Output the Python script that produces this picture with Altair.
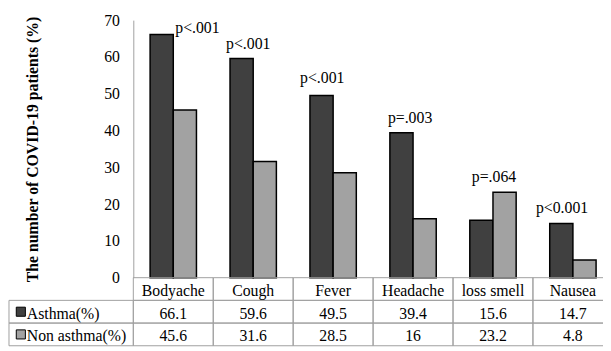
import altair as alt
import pandas as pd

# ---------------- data ----------------
symptoms = ["Bodyache", "Cough", "Fever", "Headache", "loss smell", "Nausea"]
asthma = [66.1, 59.6, 49.5, 39.4, 15.6, 14.7]
non_asthma = [45.6, 31.6, 28.5, 16, 23.2, 4.8]
p_values = ["p<.001", "p<.001", "p<.001", "p=.003", "p=.064", "p<0.001"]
series = ["Asthma(%)", "Non asthma(%)"]
y_ticks = [0, 10, 20, 30, 40, 50, 60, 70]
y_title = "The number of COVID-19 patients (%)"

# ---------------- styling ----------------
FONT = "Liberation Serif"
FS = 16
GRID = "#a0a0a0"
COLORS = ["#404040", "#a2a2a2"]
PLOT_H = 261
COL = 81
ROW_H = 23
HEADER = " "
rows = [HEADER] + series
# label nudges (align, dx, dy) as placed by hand in the original
LABEL_STYLE = {
    "Bodyache": ("left", 2, -7),
    "Cough": ("center", -5, -15),
    "Fever": ("center", -11, -18),
    "Headache": ("center", -3, -15),
    "loss smell": ("center", 1, -15),
    "Nausea": ("center", -11, -16),
}

bars_df = pd.DataFrame({
    "symptom": symptoms * 2,
    "series": [series[0]] * len(symptoms) + [series[1]] * len(symptoms),
    "value": asthma + non_asthma,
})
p_df = pd.DataFrame({
    "symptom": symptoms,
    "p": p_values,
    "top": [max(a, b) for a, b in zip(asthma, non_asthma)],
})
table_df = pd.DataFrame({
    "symptom": symptoms * 3,
    "row": [HEADER] * 6 + [series[0]] * 6 + [series[1]] * 6,
    "text": symptoms + [str(v) for v in asthma] + [str(v) for v in non_asthma],
})
legend_df = pd.DataFrame({"row": series, "series": series})

x_bar = alt.Scale(type="band", domain=symptoms, range=[0, 6 * COL], paddingInner=0.42, paddingOuter=0.21)
x_tab = alt.Scale(type="band", domain=symptoms, range=[0, 6 * COL], paddingInner=0, paddingOuter=0)
y_bar = alt.Scale(domain=[0, 70], range=[PLOT_H, 0], nice=False, zero=True)
y_tab = alt.Scale(type="band", domain=rows, range=[PLOT_H, PLOT_H + 3 * ROW_H], paddingInner=0, paddingOuter=0)
color = alt.Scale(domain=series, range=COLORS)

bars = alt.Chart(bars_df).mark_bar(stroke="black", strokeWidth=1.5).encode(
    x=alt.X("symptom:N", scale=x_bar, axis=None, sort=symptoms),
    xOffset=alt.XOffset("series:N", scale=alt.Scale(domain=series, paddingInner=0, paddingOuter=0)),
    y=alt.Y("value:Q", scale=y_bar, axis=alt.Axis(
        values=y_ticks, ticks=False, grid=False, domainColor=GRID, domainWidth=1,
        labelFont=FONT, labelFontSize=FS, labelColor="black", labelPadding=14,
        title=y_title, titleFont=FONT, titleFontSize=FS, titleFontWeight="bold",
        titleColor="black", titlePadding=64)),
    fill=alt.Fill("series:N", scale=color, legend=None),
)

p_layers = []
for s in symptoms:
    align, dx, dy = LABEL_STYLE[s]
    p_layers.append(
        alt.Chart(p_df).transform_filter(alt.datum.symptom == s).mark_text(
            font=FONT, fontSize=FS, color="black", align=align, baseline="middle", dx=dx, dy=dy
        ).encode(
            x=alt.X("symptom:N", scale=x_bar, axis=None),
            y=alt.Y("top:Q", scale=y_bar, axis=None),
            text="p:N",
        )
    )

tab_rect = alt.Chart(table_df).mark_rect(fillOpacity=0, stroke=GRID, strokeWidth=1).encode(
    x=alt.X("symptom:N", scale=x_tab, axis=None),
    y=alt.Y("row:N", scale=y_tab, axis=None),
)
tab_text = alt.Chart(table_df).mark_text(font=FONT, fontSize=FS, color="black", baseline="middle", dy=2).encode(
    x=alt.X("symptom:N", scale=x_tab, axis=None),
    y=alt.Y("row:N", scale=y_tab, axis=None),
    text="text:N",
)

leg_rect = alt.Chart(legend_df).mark_rect(fillOpacity=0, stroke=GRID, strokeWidth=1).encode(
    x=alt.value(-126), x2=alt.value(0),
    y=alt.Y("row:N", scale=y_tab, axis=None),
)
leg_pt = alt.Chart(legend_df).mark_square(size=85, stroke="black", strokeWidth=1, opacity=1).encode(
    x=alt.value(-114),
    y=alt.Y("row:N", scale=y_tab, axis=None),
    fill=alt.Fill("series:N", scale=color, legend=None),
)
leg_text = alt.Chart(legend_df).mark_text(font=FONT, fontSize=FS, color="black", align="left", baseline="middle", dy=2).encode(
    x=alt.value(-108),
    y=alt.Y("row:N", scale=y_tab, axis=None),
    text="row:N",
)

chart = alt.layer(
    bars, *p_layers, tab_rect, tab_text, leg_rect, leg_pt, leg_text
).resolve_scale(
    x="independent", y="independent"
).properties(
    width=476, height=PLOT_H,
    autosize=alt.AutoSizeParams(type="none"),
    padding={"left": 127, "top": 10, "right": 0, "bottom": 72},
    background="white",
).configure_view(stroke=None)

chart.save("out.html", embed_options={"renderer": "svg", "actions": False})
